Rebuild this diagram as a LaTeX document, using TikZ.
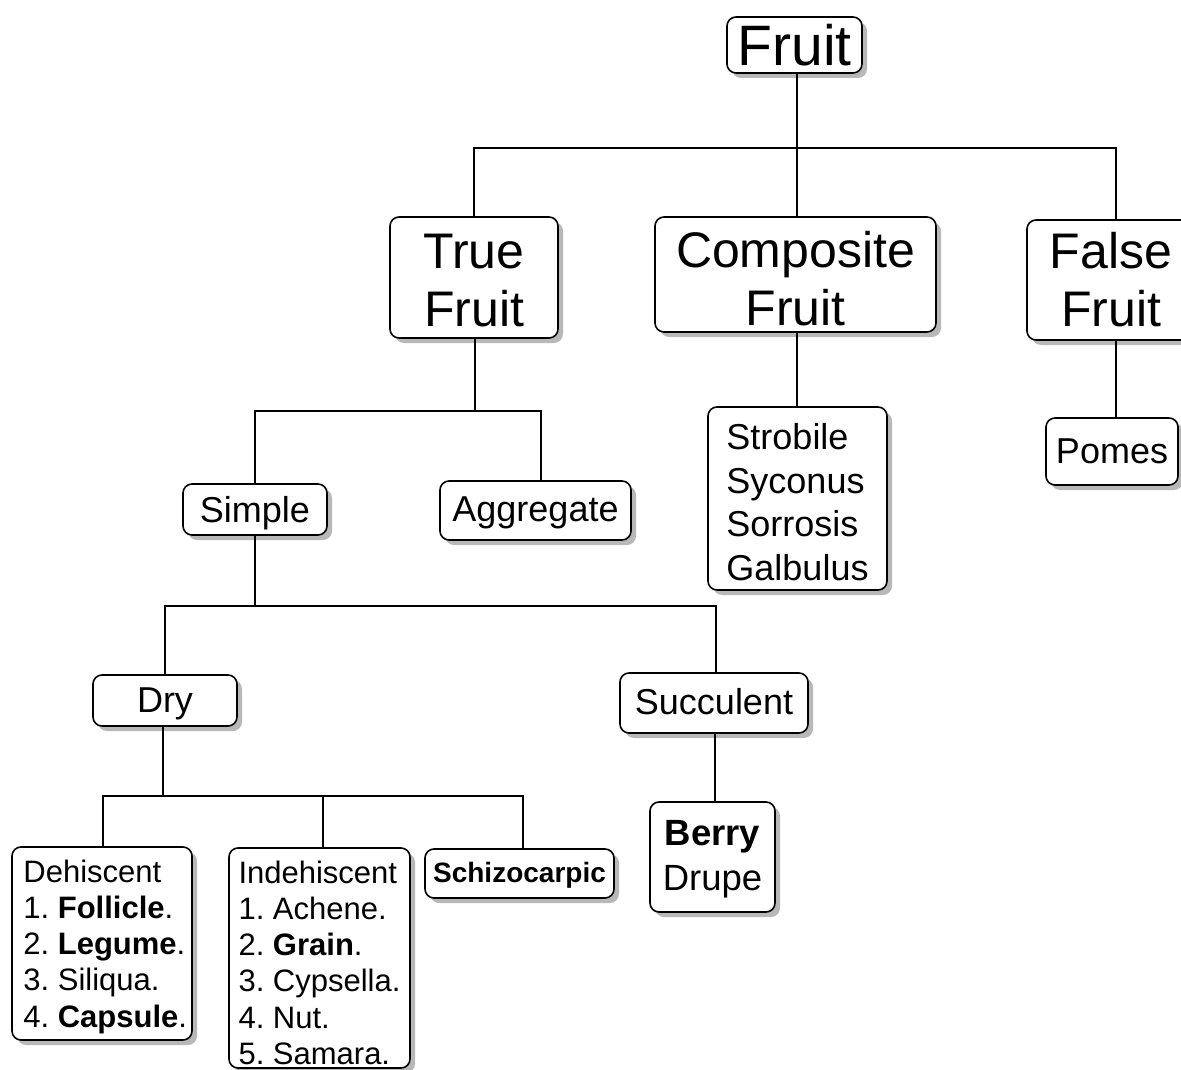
\documentclass[tikz,border=0pt]{standalone}
\usepackage{fontspec}
\setmainfont{Liberation Sans}
\usetikzlibrary{shadows}
\frenchspacing
\newcommand{\lift}[1]{\rule{0pt}{#1}}
\begin{document}
\begin{tikzpicture}[x=1pt,y=-1pt,
  box/.style={draw, line width=1.6pt, rounded corners=9pt, fill=white, inner sep=0pt, text depth=0pt,
    drop shadow={shadow xshift=5pt, shadow yshift=-5pt, fill=black!28, opacity=1}},
  big/.style={font=\fontsize{50}{58}\selectfont, align=center},
  mid/.style={font=\fontsize{36}{43.5}\selectfont},
  small/.style={font=\fontsize{31}{36.2}\selectfont},
  conn/.style={line width=1.6pt}]
\useasboundingbox (0,0) rectangle (1181,1070);

\node[box, font=\fontsize{57}{60}\selectfont, minimum width=135pt, minimum height=56pt] (fruit) at (794.5,45) {Fruit};
\node[box, big, minimum width=168pt, minimum height=121pt] (truefruit) at (474,277.5) {\lift{40pt}True\\Fruit};
\node[box, big, minimum width=281pt, minimum height=115pt] (composite) at (795.5,274.5) {\lift{44pt}Composite\\Fruit};
\node[box, big, text depth=2pt, minimum width=178pt, minimum height=120pt] (falsefruit) at (1116,280) {\hspace*{-10pt}False\\\hspace*{-10pt}Fruit};

\node[box, mid, align=left, minimum width=179pt, minimum height=183pt] (strobile) at (797.5,498.5) {\lift{33pt}Strobile\\Syconus\\Sorrosis\\Galbulus};
\node[box, mid, minimum width=132pt, minimum height=67pt] (pomes) at (1112,451.5) {Pomes};

\node[box, mid, minimum width=144pt, minimum height=51pt] (simple) at (255,509.5) {Simple};
\node[box, mid, text depth=3pt, minimum width=191pt, minimum height=59pt] (aggregate) at (535.5,510.5) {Aggregate};

\node[box, mid, minimum width=144pt, minimum height=51pt] (dry) at (165,700.5) {Dry};
\node[box, mid, text depth=4pt, minimum width=188pt, minimum height=60pt] (succulent) at (714,703) {Succulent};

\node[box, minimum width=180pt, minimum height=193pt] (dehiscent) at (102,943.5) {};
\node[small, align=left, anchor=west, inner sep=0pt, text depth=0pt] (dehiscenttext) at ([xshift=12pt]dehiscent.west)
  {Dehiscent\\1. \textbf{Follicle}.\\2. \textbf{Legume}.\\3. Siliqua.\\4. \textbf{Capsule}.};
\node[box, small, align=left, minimum width=181pt, minimum height=220pt] (indehiscent) at (319.5,958)
  {\lift{31.5pt}Indehiscent\\1. Achene.\\2. \textbf{Grain}.\\3. Cypsella.\\4. Nut.\\5. Samara.};
\node[box, font=\fontsize{28}{30}\selectfont\bfseries, text depth=2pt, minimum width=189pt, minimum height=49pt] (schizo) at (519.5,873.5) {Schizocarpic};
\node[box, align=center, font=\fontsize{36.5}{45}\selectfont, text depth=3pt, minimum width=125pt, minimum height=110pt] (berry) at (712.5,857) {\textbf{Berry}\\Drupe};

% junctions
\coordinate (j1) at (797,148);
\coordinate (j2) at (475,411);
\coordinate (j3) at (255,606);
\coordinate (j4) at (163,796);

\draw[conn] (fruit.south -| j1) -- (j1);
\draw[conn] (truefruit.north) |- (j1) -| (falsefruit.north);
\draw[conn] (composite.north -| j1) -- (j1);
\draw[conn] (composite.south -| j1) -- (strobile.north -| j1);
\draw[conn] (falsefruit.south) -- (falsefruit.south |- pomes.north);

\draw[conn] (truefruit.south -| j2) -- (j2);
\draw[conn] (simple.north) |- (j2) -| ([xshift=5.5pt]aggregate.north);

\draw[conn] (simple.south) -- (j3);
\draw[conn] (dry.north) |- (j3) -| ([xshift=2pt]succulent.north);

\draw[conn] (dry.south -| j4) -- (j4);
\draw[conn] ([xshift=1pt]dehiscent.north) |- (j4) -| ([xshift=3.5pt]schizo.north);
\draw[conn] ([xshift=3.5pt]indehiscent.north) -- ([xshift=3.5pt]indehiscent.north |- j4);
\draw[conn] ([xshift=1pt]succulent.south) -- ([xshift=1pt]succulent.south |- berry.north);
\end{tikzpicture}
\end{document}
